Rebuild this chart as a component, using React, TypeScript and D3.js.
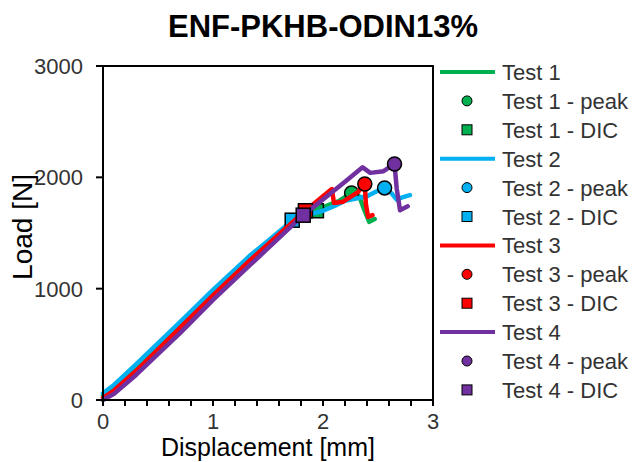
import React from "react";
import * as d3 from "d3";

const title = "ENF-PKHB-ODIN13%";
const xTicks = [0, 1, 2, 3];
const xMinorTicks = d3.range(0, 3.0001, 0.2);
const yTicks = [0, 1000, 2000, 3000];

const test1X = [0, 0.1, 0.3, 0.7, 1.0, 1.34, 1.7, 1.94, 2.05, 2.15, 2.26, 2.33, 2.37, 2.42, 2.47];
const test1Y = [40, 100, 275, 660, 955, 1270, 1580, 1700, 1750, 1790, 1860, 1830, 1720, 1600, 1625];

const test2X = [0, 0.1, 0.3, 0.7, 1.0, 1.34, 1.72, 1.85, 2.0, 2.1, 2.2, 2.3, 2.4, 2.48, 2.56, 2.62, 2.67, 2.72, 2.79];
const test2Y = [60, 135, 320, 700, 990, 1300, 1610, 1660, 1700, 1740, 1790, 1810, 1830, 1870, 1905, 1860, 1800, 1820, 1840];

const test3X = [0, 0.1, 0.3, 0.7, 1.0, 1.34, 1.84, 1.95, 2.08, 2.10, 2.18, 2.32, 2.38, 2.39, 2.41, 2.45];
const test3Y = [20, 85, 260, 647, 940, 1258, 1700, 1790, 1895, 1770, 1780, 1870, 1940, 1760, 1645, 1660];

const test4X = [0, 0.1, 0.3, 0.7, 1.0, 1.34, 1.82, 2.0, 2.2, 2.36, 2.43, 2.55, 2.65, 2.67, 2.70, 2.77];
const test4Y = [0, 55, 225, 600, 900, 1215, 1660, 1800, 1960, 2090, 2040, 2055, 2120, 1900, 1705, 1740];

const peakX = [2.26, 2.56, 2.38, 2.65];
const peakY = [1860, 1905, 1940, 2120];
const dicX = [1.94, 1.72, 1.84, 1.82];
const dicY = [1700, 1615, 1700, 1660];

const seriesNames = ["Test 1", "Test 2", "Test 3", "Test 4"];
const colors = ["#00B050", "#00B0F0", "#FF0000", "#7030A0"];

const curvesX = [test1X, test2X, test3X, test4X];
const curvesY = [test1Y, test2Y, test3Y, test4Y];

export default function App() {
  const W = 633, H = 462;
  const left = 103, right = 433, top = 66, bottom = 400;
  const x = d3.scaleLinear().domain([0, 3]).range([left, right]);
  const y = d3.scaleLinear().domain([0, 3000]).range([bottom, top]);
  const line = d3.line<[number, number]>().x(d => x(d[0])).y(d => y(d[1]));
  const font = "Liberation Sans, Arial, sans-serif";
  const textColor = "#333";

  const legendRows: { type: string; i: number; label: string }[] = [];
  seriesNames.forEach((n, i) => {
    legendRows.push({ type: "line", i, label: n });
    legendRows.push({ type: "peak", i, label: n + " - peak" });
    legendRows.push({ type: "dic", i, label: n + " - DIC" });
  });
  const legY0 = 72, legDy = 28.9;

  return (
    <svg width={W} height={H} style={{ position: "absolute", left: 0, top: 0, background: "#fff" }} fontFamily={font}>
      <rect x={0} y={0} width={W} height={H} fill="#fff" />
      <text x={323} y={37} textAnchor="middle" fontSize={31} fontWeight="bold" fill="#000">{title}</text>

      {curvesX.map((cx, i) => (
        <g key={i}>
          <path d={line(cx.map((v, k) => [v, curvesY[i][k]]) as [number, number][]) || ""} fill="none" stroke={colors[i]} strokeWidth={4.5} strokeLinejoin="round" strokeLinecap="round" />
          <circle cx={x(peakX[i])} cy={y(peakY[i])} r={7} fill={colors[i]} stroke="#000" strokeWidth={1.5} />
          <rect x={x(dicX[i]) - 7} y={y(dicY[i]) - 7} width={14} height={14} fill={colors[i]} stroke="#000" strokeWidth={1.5} />
        </g>
      ))}

      <rect x={left} y={top} width={right - left} height={bottom - top} fill="none" stroke="#000" strokeWidth={2} />

      {xMinorTicks.map((t, k) => (
        <line key={k} x1={x(t)} x2={x(t)} y1={bottom} y2={bottom + 6} stroke="#000" strokeWidth={2} />
      ))}
      {xTicks.map(t => (
        <text key={t} x={x(t)} y={429} textAnchor="middle" fontSize={22} fill={textColor}>{t}</text>
      ))}
      {yTicks.map(t => (
        <g key={t}>
          <line x1={left - 7} x2={left} y1={y(t)} y2={y(t)} stroke="#000" strokeWidth={2} />
          <text x={83} y={y(t) + 8} textAnchor="end" fontSize={22} fill={textColor}>{t}</text>
        </g>
      ))}

      <text x={268} y={456} textAnchor="middle" fontSize={25} fill="#000">Displacement [mm]</text>
      <text transform={`translate(32,227) rotate(-90)`} textAnchor="middle" fontSize={28} fill="#000">Load [N]</text>

      {legendRows.map((r, k) => {
        const ly = legY0 + k * legDy;
        return (
          <g key={k}>
            {r.type === "line" && <line x1={440} x2={495} y1={ly} y2={ly} stroke={colors[r.i]} strokeWidth={4} />}
            {r.type === "peak" && <circle cx={467} cy={ly} r={5} fill={colors[r.i]} stroke="#000" strokeWidth={1} />}
            {r.type === "dic" && <rect x={462} y={ly - 5} width={10} height={10} fill={colors[r.i]} stroke="#000" strokeWidth={1} />}
            <text x={502} y={ly + 8} fontSize={22} fill={textColor}>{r.label}</text>
          </g>
        );
      })}
    </svg>
  );
}
